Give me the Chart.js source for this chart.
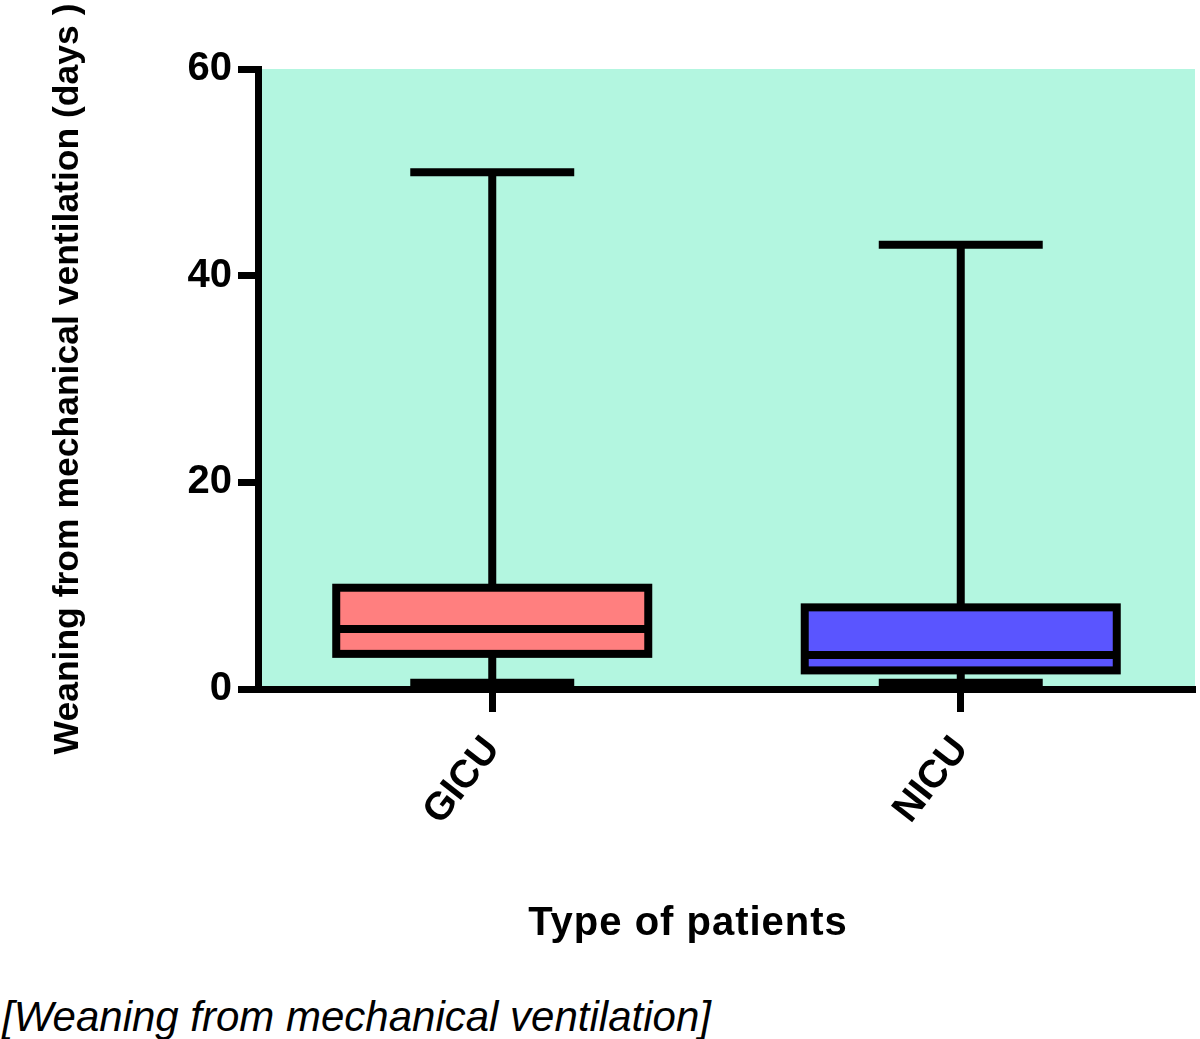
<!DOCTYPE html>
<html>
<head>
<meta charset="utf-8">
<script src="https://cdn.jsdelivr.net/npm/chart.js@4.4.1/dist/chart.umd.min.js"></script>
<style>
    body { margin: 0; background: #fff; }
    #wrap { position: absolute; left: 0; top: 0; width: 1200px; height: 960px; }
    .label { position: absolute; color: #000; white-space: nowrap; line-height: 1;
             font-family: "Liberation Sans", Arial, sans-serif; }
    #xTitle { left: 488px; width: 400px; top: 901px; text-align: center;
              font-size: 40px; font-weight: bold; letter-spacing: 1px; }
    #caption { left: 2px; top: 996px; font-size: 42px; font-style: italic; }
</style>
</head>
<body>
<div id="wrap"><canvas id="boxChart"></canvas></div>
<div id="xTitle" class="label">Type of patients</div>
<div id="caption" class="label">[Weaning from mechanical ventilation]</div>

<script>
// Data
const categories = ['GICU', 'NICU'];
const mins    = [0.6, 0.6];
const q1s     = [3.4, 1.8];
const medians = [5.8, 3.3];
const q3s     = [9.8, 7.9];
const maxs    = [50, 43];
const yTicks  = [0, 20, 40, 60];
const boxColors = ['#ff7f7f', '#5a55ff'];

const LINE = 8;

// Draws plot background, whiskers, box outlines and medians from the scales
const boxPlotLines = {
    id: 'boxPlotLines',
    beforeDraw(chart) {
        const { ctx, chartArea: a } = chart;
        ctx.save();
        ctx.fillStyle = '#b3f6e0';
        ctx.fillRect(a.left, a.top, a.right - a.left, a.bottom - a.top);
        ctx.restore();
    },
    beforeDatasetsDraw(chart) {
        const { ctx, scales: { x, y } } = chart;
        const catW = x.getPixelForValue(1) - x.getPixelForValue(0);
        const capHalf = catW * 0.175;
        ctx.save();
        ctx.strokeStyle = '#000';
        ctx.lineWidth = LINE;
        categories.forEach((c, i) => {
            const cx = x.getPixelForValue(i);
            ctx.beginPath();
            ctx.moveTo(cx, y.getPixelForValue(mins[i]));
            ctx.lineTo(cx, y.getPixelForValue(maxs[i]));
            ctx.stroke();
            [mins[i], maxs[i]].forEach(v => {
                const py = y.getPixelForValue(v);
                ctx.beginPath();
                ctx.moveTo(cx - capHalf, py);
                ctx.lineTo(cx + capHalf, py);
                ctx.stroke();
            });
        });
        ctx.restore();
    },
    afterDatasetsDraw(chart) {
        const { ctx, scales: { y } } = chart;
        const meta = chart.getDatasetMeta(0);
        ctx.save();
        ctx.strokeStyle = '#000';
        ctx.lineWidth = LINE;
        meta.data.forEach((bar, i) => {
            const half = bar.width / 2;
            const top = y.getPixelForValue(q3s[i]);
            const bot = y.getPixelForValue(q1s[i]);
            ctx.strokeRect(bar.x - half, top, half * 2, bot - top);
            const my = y.getPixelForValue(medians[i]);
            ctx.beginPath();
            ctx.moveTo(bar.x - half, my);
            ctx.lineTo(bar.x + half, my);
            ctx.stroke();
        });
        ctx.restore();
    }
};

const font = '"Liberation Sans", Arial, sans-serif';

new Chart(document.getElementById('boxChart'), {
    type: 'bar',
    data: {
        labels: categories,
        datasets: [{
            data: categories.map((c, i) => [q1s[i], q3s[i]]),
            backgroundColor: boxColors,
            borderWidth: 0,
            barPercentage: 0.666,
            categoryPercentage: 1
        }]
    },
    options: {
        responsive: true,
        maintainAspectRatio: false,
        animation: false,
        layout: { padding: { top: 69, right: 5, left: 0, bottom: 0 } },
        plugins: { legend: { display: false }, tooltip: { enabled: false } },
        scales: {
            x: {
                afterFit(scale) { scale.height = 271; },
                grid: { display: true, drawOnChartArea: false, offset: false,
                        tickLength: 23, tickWidth: 7, tickColor: '#000' },
                border: { display: true, width: 7, color: '#000' },
                ticks: {
                    color: '#000', minRotation: 52, maxRotation: 52, padding: 16,
                    font: { family: font, size: 39, weight: 'bold' }
                }
            },
            y: {
                min: 0, max: 60,
                afterFit(scale) { scale.width = 258; },
                afterBuildTicks(scale) { scale.ticks = yTicks.map(v => ({ value: v })); },
                grid: { display: true, drawOnChartArea: false,
                        tickLength: 20, tickWidth: 7, tickColor: '#000' },
                border: { display: true, width: 7, color: '#000' },
                ticks: {
                    color: '#000', padding: 6,
                    font: { family: font, size: 40, weight: 'bold' }
                },
                title: {
                    display: true, text: 'Weaning from mechanical ventilation (days )', color: '#000',
                    font: { family: font, size: 35.5, weight: 'bold' },
                    padding: { top: 47, bottom: 0 }
                }
            }
        }
    },
    plugins: [boxPlotLines]
});
</script>
</body>
</html>
